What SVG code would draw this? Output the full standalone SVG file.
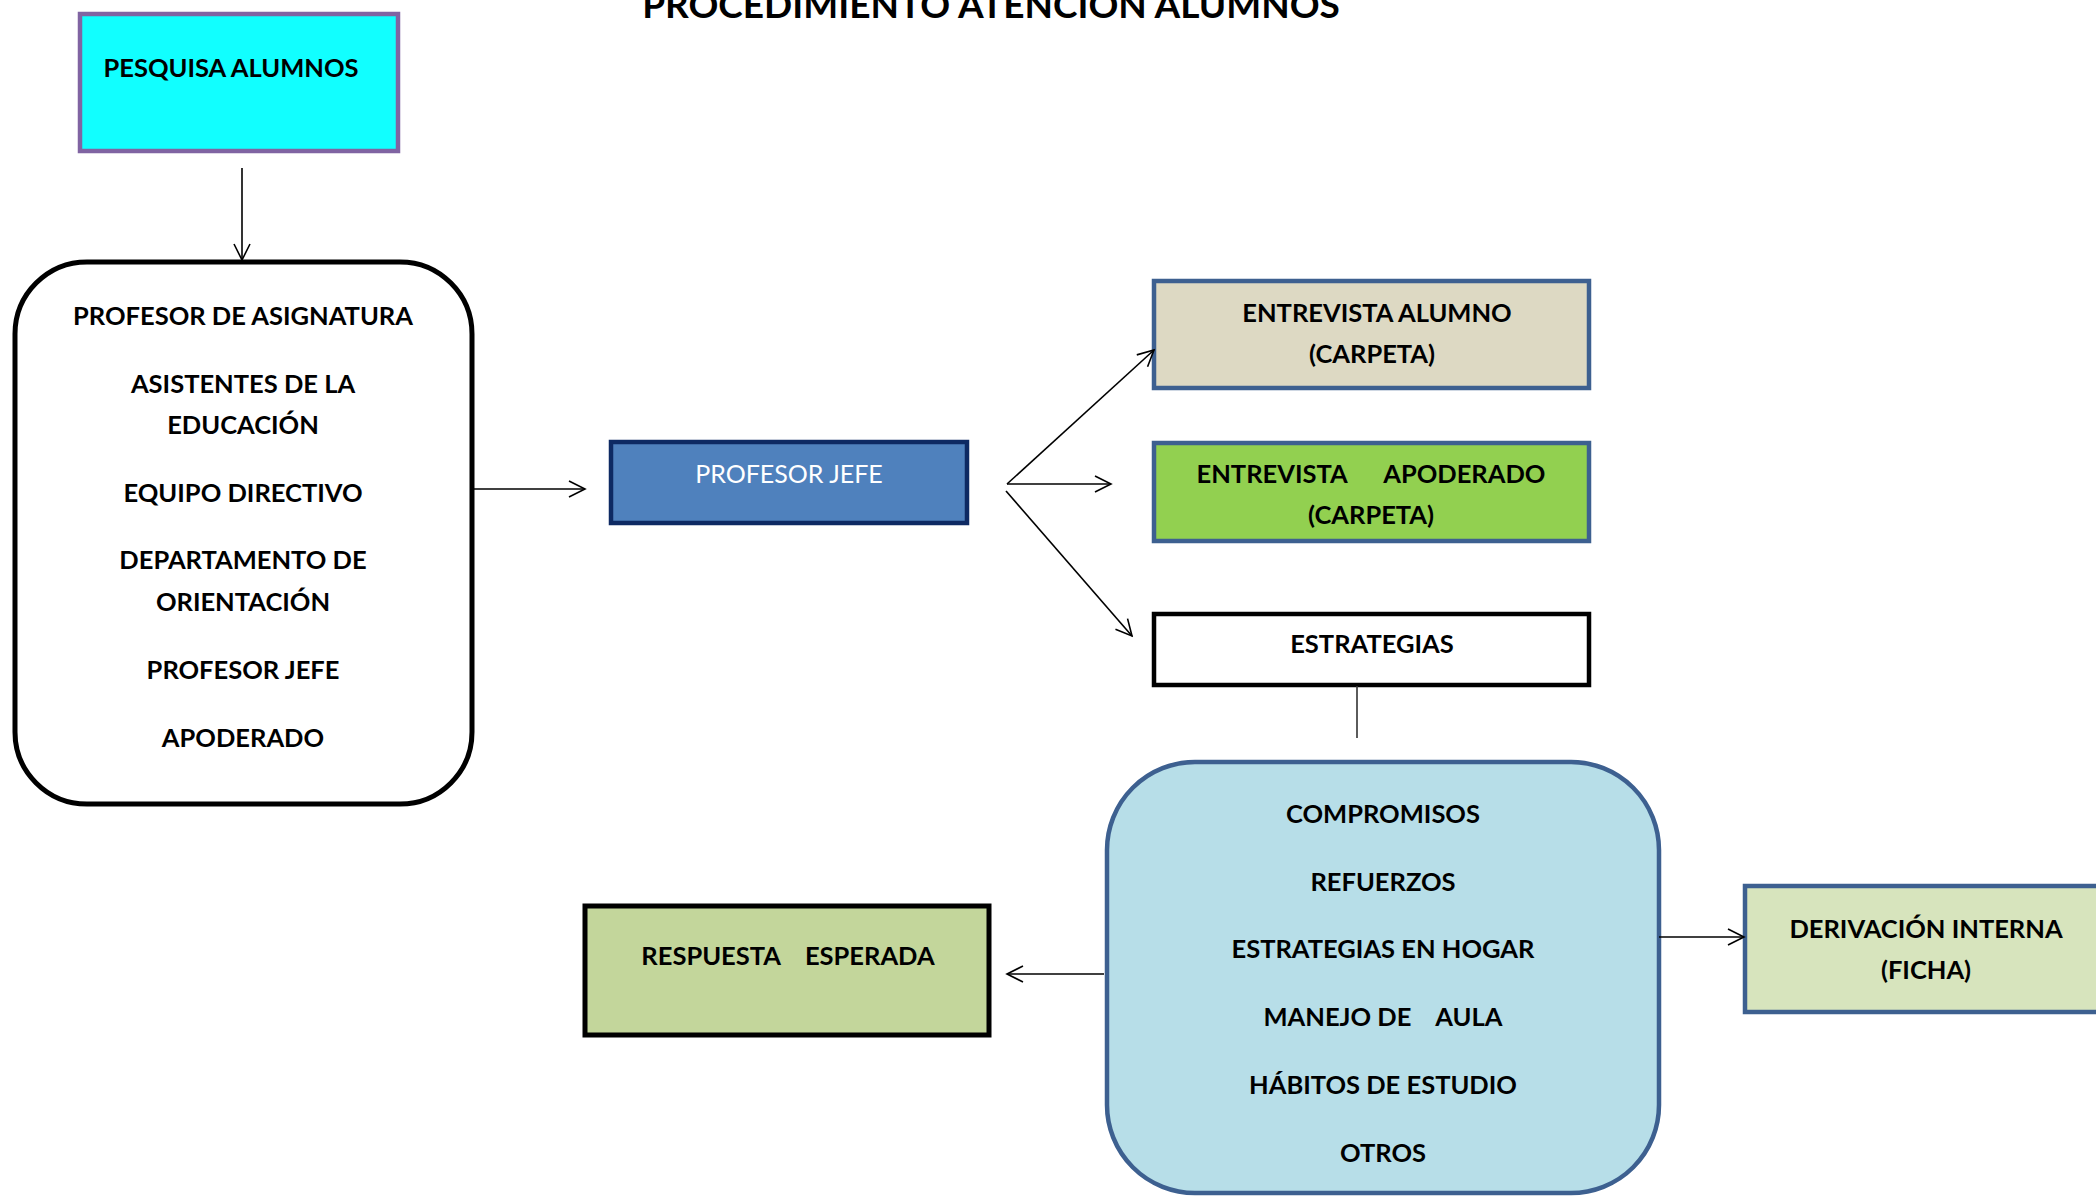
<svg xmlns="http://www.w3.org/2000/svg" width="2096" height="1196" viewBox="0 0 2096 1196">
<defs>
<marker id="ah" viewBox="0 0 20 20" refX="18" refY="10" markerWidth="20" markerHeight="20" markerUnits="userSpaceOnUse" orient="auto">
<path d="M2,2 L18,10 L2,18" fill="none" stroke="#000" stroke-width="1.6"/>
</marker>
<style>
.t{font-family:Lato,"Liberation Sans",sans-serif;font-weight:bold;font-size:25.5px;fill:#000;text-anchor:middle}
.c{stroke:#000;stroke-width:1.6;fill:none;marker-end:url(#ah)}
</style>
</defs>
<rect width="2096" height="1196" fill="#fff"/>
<text x="991" y="18" class="t" style="font-size:37px">PROCEDIMIENTO ATENCIÓN ALUMNOS</text>

<g id="pesquisa">
<rect x="80" y="14" width="318" height="137" fill="#11FFFF" stroke="#8064A2" stroke-width="4.5"/>
<text x="231" y="77" class="t">PESQUISA ALUMNOS</text>
</g>

<g id="actores">
<rect x="15" y="262" width="457" height="542" rx="72" ry="72" fill="#fff" stroke="#000" stroke-width="5"/>
<text x="243" y="325" class="t">PROFESOR DE ASIGNATURA</text>
<text x="243" y="393" class="t">ASISTENTES DE LA</text>
<text x="243" y="434" class="t">EDUCACIÓN</text>
<text x="243" y="502" class="t">EQUIPO DIRECTIVO</text>
<text x="243" y="569" class="t">DEPARTAMENTO DE</text>
<text x="243" y="611" class="t">ORIENTACIÓN</text>
<text x="243" y="679" class="t">PROFESOR JEFE</text>
<text x="243" y="747" class="t">APODERADO</text>
</g>

<g id="profesor-jefe">
<rect x="611" y="442" width="356" height="81" fill="#4F81BD" stroke="#0E2A63" stroke-width="4.5"/>
<text x="789" y="483" class="t" style="font-weight:normal;fill:#fff;font-size:25px">PROFESOR JEFE</text>
</g>

<g id="entrevista-alumno">
<rect x="1154" y="281" width="435" height="107" fill="#DDD9C3" stroke="#3D6090" stroke-width="4.5"/>
<text x="1377" y="322" class="t">ENTREVISTA ALUMNO</text>
<text x="1372" y="363" class="t">(CARPETA)</text>
</g>

<g id="entrevista-apoderado">
<rect x="1154" y="443" width="435" height="98" fill="#92D050" stroke="#3D6090" stroke-width="4.5"/>
<text x="1371" y="483" class="t" xml:space="preserve">ENTREVISTA      APODERADO</text>
<text x="1371" y="524" class="t">(CARPETA)</text>
</g>

<g id="estrategias">
<rect x="1154" y="614" width="435" height="71" fill="#fff" stroke="#000" stroke-width="4.5"/>
<text x="1372" y="653" class="t">ESTRATEGIAS</text>
</g>

<g id="acciones">
<rect x="1107" y="762" width="552" height="431" rx="88" ry="88" fill="#B7DEE8" stroke="#3D6090" stroke-width="4.5"/>
<text x="1383" y="823" class="t">COMPROMISOS</text>
<text x="1383" y="891" class="t">REFUERZOS</text>
<text x="1383" y="958" class="t">ESTRATEGIAS EN HOGAR</text>
<text x="1383" y="1026" class="t" xml:space="preserve">MANEJO DE    AULA</text>
<text x="1383" y="1094" class="t">HÁBITOS DE ESTUDIO</text>
<text x="1383" y="1162" class="t">OTROS</text>
</g>

<g id="respuesta">
<rect x="585" y="906" width="404" height="129" fill="#C3D69B" stroke="#000" stroke-width="5"/>
<text x="788" y="965" class="t" xml:space="preserve">RESPUESTA    ESPERADA</text>
</g>

<g id="derivacion">
<rect x="1745" y="886" width="360" height="126" fill="#D7E4BD" stroke="#3D6090" stroke-width="4.5"/>
<text x="1926" y="938" class="t">DERIVACIÓN INTERNA</text>
<text x="1926" y="979" class="t">(FICHA)</text>
</g>

<g id="connectors">
<line x1="242" y1="168" x2="242" y2="260" class="c"/>
<line x1="474" y1="489" x2="585" y2="489" class="c"/>
<line x1="1007" y1="484" x2="1154" y2="350" class="c"/>
<line x1="1007" y1="484" x2="1111" y2="484" class="c"/>
<line x1="1006" y1="491" x2="1132" y2="636" class="c"/>
<line x1="1357" y1="686" x2="1357" y2="738" stroke="#333" stroke-width="1.6"/>
<line x1="1104" y1="974" x2="1007" y2="974" class="c"/>
<line x1="1659" y1="937" x2="1744" y2="937" class="c"/>
</g>
</svg>
